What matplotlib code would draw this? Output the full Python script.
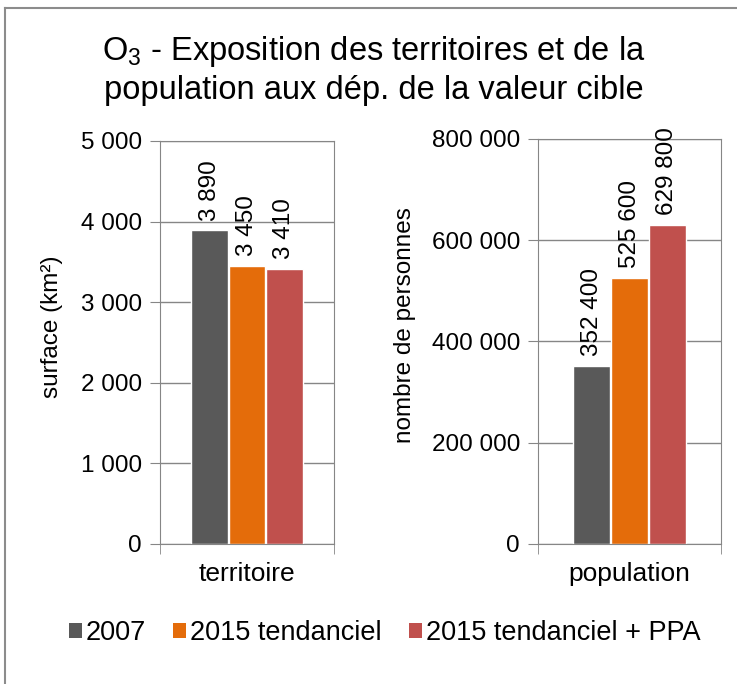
import matplotlib.pyplot as plt
from matplotlib.lines import Line2D
from matplotlib.patches import Patch

plt.rcParams['font.family'] = ['Liberation Sans', 'DejaVu Sans']
plt.rcParams['mathtext.fontset'] = 'custom'
plt.rcParams['mathtext.rm'] = 'Liberation Sans'
plt.rcParams['mathtext.default'] = 'regular'

series = ['2007', '2015 tendanciel', '2015 tendanciel + PPA']
colors = ['#595959', '#E46C0A', '#C0504D']

territoire = [3890, 3450, 3410]
population = [352400, 525600, 629800]

surface_ticks = [0, 1000, 2000, 3000, 4000, 5000]
pop_ticks = [0, 200000, 400000, 600000, 800000]

FS = 17.5


def fmt(v):
    return f'{v:,}'.replace(',', ' ')


fig = plt.figure(figsize=(7.37, 6.84), dpi=100)

ax1 = fig.add_axes([0.2171, 0.2047, 0.2361, 0.5892])
ax2 = fig.add_axes([0.7300, 0.2047, 0.2483, 0.5921])

grid_col = '#868686'


def draw(ax, values, ticks, ylabel, cat, width, step, label_x):
    xs = [-step, 0, step]
    bars = ax.bar(xs, values, width=width, color=colors, edgecolor='white', linewidth=1)
    for b, v in zip(bars, values):
        ax.annotate(fmt(v), (b.get_x() + b.get_width() / 2, v),
                    xytext=(0, 7), textcoords='offset points',
                    rotation=90, ha='center', va='bottom', fontsize=FS)
    ax.set_xlim(-0.5, 0.5)
    ax.set_ylim(ticks[0], ticks[-1])
    ax.set_yticks(ticks, [fmt(t) for t in ticks])
    ax.set_xticks([0], [cat])
    ax.set_xticks([-0.5, 0.5], minor=True)
    ax.tick_params(axis='x', which='major', length=0, labelsize=19, pad=13)
    ax.tick_params(axis='x', which='minor', length=7, color=grid_col)
    ax.tick_params(axis='y', length=7, color=grid_col, labelsize=FS, pad=6)
    ax.yaxis.grid(True, color=grid_col, linewidth=1)
    ax.set_axisbelow(True)
    for s in ax.spines.values():
        s.set_color(grid_col)
    ax.set_ylabel(ylabel, fontsize=FS)
    ax.yaxis.set_label_coords(label_x, 0.54)


draw(ax1, territoire, surface_ticks, 'surface (km²)', 'territoire', 0.21, 0.215, -0.56)
draw(ax2, population, pop_ticks, 'nombre de personnes', 'population', 0.2, 0.207, -0.665)

fig.text(0.507, 0.897, 'O$_3$ - Exposition des territoires et de la\npopulation aux dép. de la valeur cible',
         ha='center', va='center', fontsize=23.5, linespacing=1.25)

handles = [Patch(facecolor=c, edgecolor='none') for c in colors]
fig.legend(handles, series, loc='center', bbox_to_anchor=(0.522, 0.075), ncol=3,
           frameon=False, fontsize=19.5, handlelength=0.48, handleheight=0.48,
           handletextpad=0.15, columnspacing=1.0)

# outer chart frame (left and top edges)
fig.add_artist(Line2D([5 / 737, 5 / 737], [0, 1 - 8 / 684], color='#8c8c8c', linewidth=1.5,
                      transform=fig.transFigure))
fig.add_artist(Line2D([5 / 737, 1], [1 - 8 / 684, 1 - 8 / 684], color='#8c8c8c', linewidth=1.5,
                      transform=fig.transFigure))

fig.savefig('out.png', dpi=100)
